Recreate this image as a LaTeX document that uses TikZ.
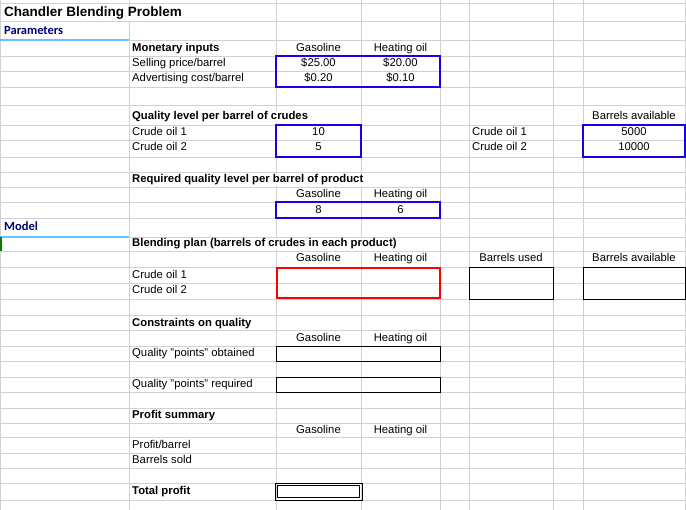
\documentclass[tikz,border=0pt]{standalone}
\usepackage{fontspec}
\setmainfont{Liberation Sans}
\newfontfamily\calib{Carlito}
\begin{document}
\begin{tikzpicture}[x=1pt,y=-1pt,
  t/.style={anchor=base west,inner sep=0pt,font=\fontsize{11.3}{13}\selectfont},
  tc/.style={anchor=base,inner sep=0pt,font=\fontsize{11.3}{13}\selectfont},
  tb/.style={anchor=base west,inner sep=1pt,fill=white,font=\fontsize{11.3}{13}\selectfont\bfseries},
  bluebox/.style={draw=blue!80!violet,line width=1.6pt},
  blackbox/.style={draw=black,line width=0.9pt},
  redbox/.style={draw=red,line width=2.6pt}]
\useasboundingbox (0,0) rectangle (686,510);
\fill[white] (0,0) rectangle (686,510);
\foreach \y in {3,21,40,56,71,87,105,125,140,157,172,187,202,218,237,251,267,283,299,315,330,346,361,377,392,408,423,437,453,468,483,500}
  \draw[black!18,line width=0.8pt] (0,\y) -- (686,\y);
\foreach \x in {0.5,129,276,361,440,469,553,583,685}
  \draw[black!18,line width=0.8pt] (\x,0) -- (\x,510);
% header underlines
\draw[blue!40!cyan!60,line width=1.8pt] (0,40) -- (129,40);
\draw[blue!40!cyan!60,line width=1.8pt] (0,237) -- (129,237);
\fill[green!50!black] (0,237) rectangle (2,251);
% texts
\node[anchor=base west,inner sep=1pt,fill=white,font=\fontsize{13.5}{15}\selectfont\bfseries] (title) at (3,17) {Chandler Blending Problem};
\node[anchor=base west,inner sep=0pt,text=blue!45!black,font=\calib\fontsize{12.5}{14}\selectfont\bfseries] (par) at (4,35) {Parameters};
\node[anchor=base west,inner sep=0pt,text=blue!45!black,font=\calib\fontsize{12.5}{14}\selectfont\bfseries] (mod) at (4,231) {Model};
\node[tb] (mi) at (131,52) {Monetary inputs};
\node[tc] (g1) at (318.5,52) {Gasoline};
\node[tc] (h1) at (400.5,52) {Heating oil};
\node[t] (sp) at (132,67) {Selling price/barrel};
\node[tc] (v1) at (318.5,67) {\$25.00};
\node[tc] (v2) at (400.5,67) {\$20.00};
\node[t] (ac) at (132,82) {Advertising cost/barrel};
\node[tc] (v3) at (318.5,82) {\$0.20};
\node[tc] (v4) at (400.5,82) {\$0.10};
\node[tb] (ql) at (131,120) {Quality level per barrel of crudes};
\node[tc] (ba) at (634,120) {Barrels available};
\node[t] (c1) at (132,136) {Crude oil 1};
\node[tc] (q1) at (318.5,136) {10};
\node[t] (c1b) at (472,136) {Crude oil 1};
\node[tc] (b1) at (634,136) {5000};
\node[t] (c2) at (132,151) {Crude oil 2};
\node[tc] (q2) at (318.5,151) {5};
\node[t] (c2b) at (472,151) {Crude oil 2};
\node[tc] (b2) at (634,151) {10000};
\node[tb] (rq) at (131,183) {Required quality level per barrel of product};
\node[tc] (g2) at (318.5,198) {Gasoline};
\node[tc] (h2) at (400.5,198) {Heating oil};
\node[tc] (r8) at (318.5,214) {8};
\node[tc] (r6) at (400.5,214) {6};
\node[tb] (bp) at (131,247) {Blending plan (barrels of crudes in each product)};
\node[tc] (g3) at (318.5,262) {Gasoline};
\node[tc] (h3) at (400.5,262) {Heating oil};
\node[tc] (bu) at (511,262) {Barrels used};
\node[tc] (ba2) at (634,262) {Barrels available};
\node[t] (c3) at (132,279) {Crude oil 1};
\node[t] (c4) at (132,294) {Crude oil 2};
\node[tb] (cq) at (131,327) {Constraints on quality};
\node[tc] (g4) at (318.5,342) {Gasoline};
\node[tc] (h4) at (400.5,342) {Heating oil};
\node[t] (qo) at (132,357) {Quality "points" obtained};
\node[t] (qr) at (132,388) {Quality "points" required};
\node[tb] (ps) at (131,419) {Profit summary};
\node[tc] (g5) at (318.5,434) {Gasoline};
\node[tc] (h5) at (400.5,434) {Heating oil};
\node[t] (pb) at (132,449) {Profit/barrel};
\node[t] (bs) at (132,464) {Barrels sold};
\node[tb] (tp) at (131,495) {Total profit};
% boxes
\draw[bluebox] (276,56) rectangle (440,87);
\draw[bluebox] (276,125) rectangle (361,157);
\draw[bluebox] (583,125) rectangle (685,157);
\draw[bluebox] (276,202) rectangle (440,218);
\draw[redbox] (277,268) rectangle (440,298);
\draw[blackbox] (469,267) rectangle (553,299);
\draw[blackbox] (583,267) rectangle (685,299);
\draw[blackbox] (276,346) rectangle (440,361);
\draw[blackbox] (276,377) rectangle (440,392);
\draw[black,line width=0.8pt] (275,483) rectangle (362,500);
\draw[black,line width=0.8pt] (277.5,485.5) rectangle (359.5,497.5);
\end{tikzpicture}
\end{document}
